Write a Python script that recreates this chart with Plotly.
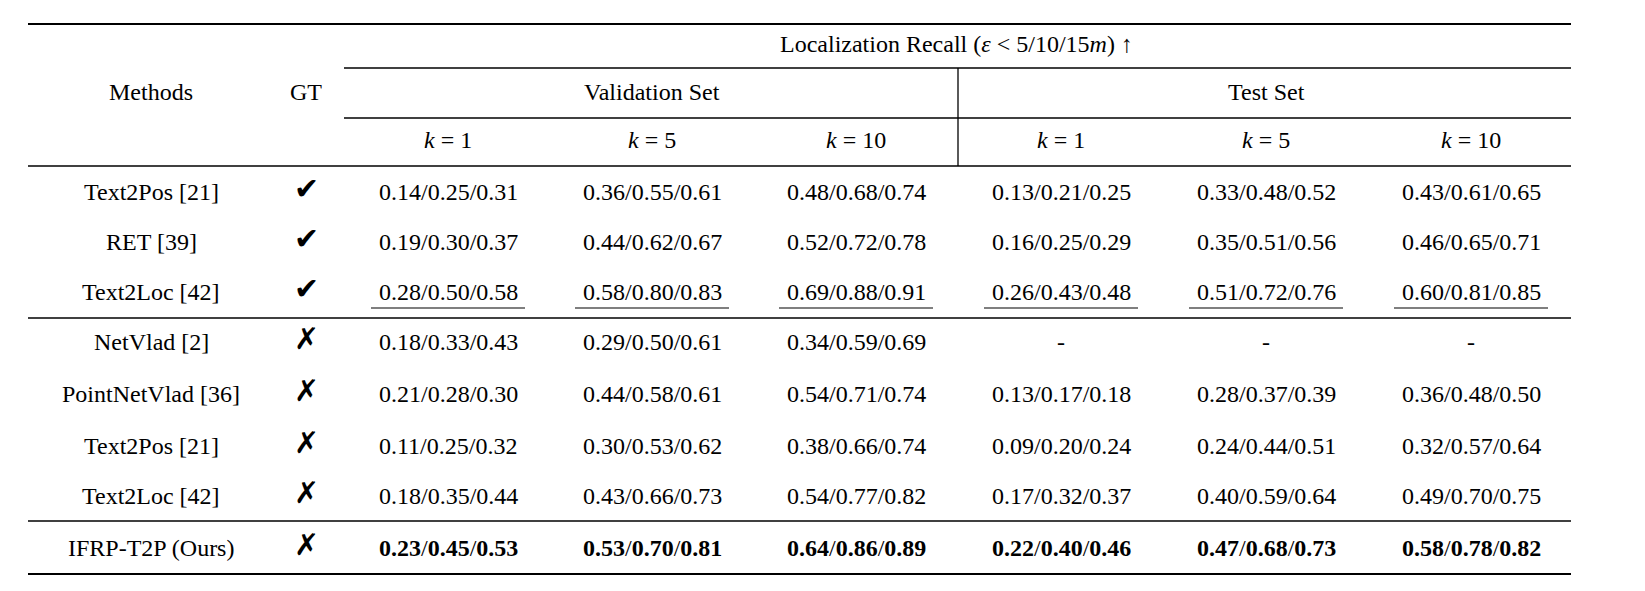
import plotly.graph_objects as go

methods = ["Text2Pos [21]", "RET [39]", "Text2Loc [42]", "NetVlad [2]", "PointNetVlad [36]",
           "Text2Pos [21]", "Text2Loc [42]", "IFRP-T2P (Ours)"]
gt = [True, True, True, False, False, False, False, False]
val_k1 = ["0.14/0.25/0.31", "0.19/0.30/0.37", "0.28/0.50/0.58", "0.18/0.33/0.43", "0.21/0.28/0.30",
          "0.11/0.25/0.32", "0.18/0.35/0.44", "0.23/0.45/0.53"]
val_k5 = ["0.36/0.55/0.61", "0.44/0.62/0.67", "0.58/0.80/0.83", "0.29/0.50/0.61", "0.44/0.58/0.61",
          "0.30/0.53/0.62", "0.43/0.66/0.73", "0.53/0.70/0.81"]
val_k10 = ["0.48/0.68/0.74", "0.52/0.72/0.78", "0.69/0.88/0.91", "0.34/0.59/0.69", "0.54/0.71/0.74",
           "0.38/0.66/0.74", "0.54/0.77/0.82", "0.64/0.86/0.89"]
test_k1 = ["0.13/0.21/0.25", "0.16/0.25/0.29", "0.26/0.43/0.48", "-", "0.13/0.17/0.18",
           "0.09/0.20/0.24", "0.17/0.32/0.37", "0.22/0.40/0.46"]
test_k5 = ["0.33/0.48/0.52", "0.35/0.51/0.56", "0.51/0.72/0.76", "-", "0.28/0.37/0.39",
           "0.24/0.44/0.51", "0.40/0.59/0.64", "0.47/0.68/0.73"]
test_k10 = ["0.43/0.61/0.65", "0.46/0.65/0.71", "0.60/0.81/0.85", "-", "0.36/0.48/0.50",
            "0.32/0.57/0.64", "0.49/0.70/0.75", "0.58/0.78/0.82"]
k_labels = ["1", "5", "10", "1", "5", "10"]
underline_row = 2
bold_row = 7

FONT = "Liberation Serif"
SIZE = 24
col_x = [432, 636, 840, 1045, 1250, 1455]
row_y = [176, 226, 276, 326, 378, 430, 480, 532]
L, R = 12, 1555

fig = go.Figure()
fig.add_trace(go.Scatter(x=[0, 1600], y=[0, 570], mode="markers", marker=dict(opacity=0), hoverinfo="skip"))

def text(x, y, s, size=SIZE, family=FONT):
    fig.add_annotation(x=x, y=y, text=s, showarrow=False, xanchor="center", yanchor="middle",
                       font=dict(family=family, size=size, color="black"))

def hline(x0, x1, y, w=1.3):
    fig.add_shape(type="line", x0=x0, x1=x1, y0=y, y1=y, line=dict(color="black", width=w))

# header
text(135, 76, "Methods")
text(290, 76, "GT")
text(940, 28, "Localization Recall (<i>ε</i> &lt; 5/10/15<i>m</i>) ↑")
text(636, 76, "Validation Set")
text(1250, 76, "Test Set")
for x, k in zip(col_x, k_labels):
    text(x, 124, f"<i>k</i> = {k}")

# rules
hline(L, R, 8, 2)
hline(328, R, 52)
hline(328, R, 102)
hline(L, R, 150, 1.5)
hline(L, R, 302, 1.5)
hline(L, R, 505, 1.5)
hline(L, R, 558, 2)
fig.add_shape(type="line", x0=942, x1=942, y0=52, y1=150, line=dict(color="black", width=1.3))

cols = [val_k1, val_k5, val_k10, test_k1, test_k5, test_k10]
for i, m in enumerate(methods):
    y = row_y[i]
    text(135, y, m)
    text(290, y - 4, "✔" if gt[i] else "✗", size=30, family="DejaVu Sans")
    for x, c in zip(col_x, cols):
        s = c[i]
        if i == bold_row:
            s = "/".join(f"<b>{p}</b>" for p in s.split("/"))
        text(x, y, s)
        if i == underline_row:
            hline(x - 77, x + 77, y + 16, 1.2)

# page body has an 8px margin, so shift the axes to keep page coordinates
fig.update_xaxes(range=[-8, 1621], visible=False)
fig.update_yaxes(range=[567, -8], visible=False)
fig.update_layout(width=1629, height=575, margin=dict(l=0, r=0, t=0, b=0),
                  plot_bgcolor="white", paper_bgcolor="white", showlegend=False)
fig.write_html("out.html")
